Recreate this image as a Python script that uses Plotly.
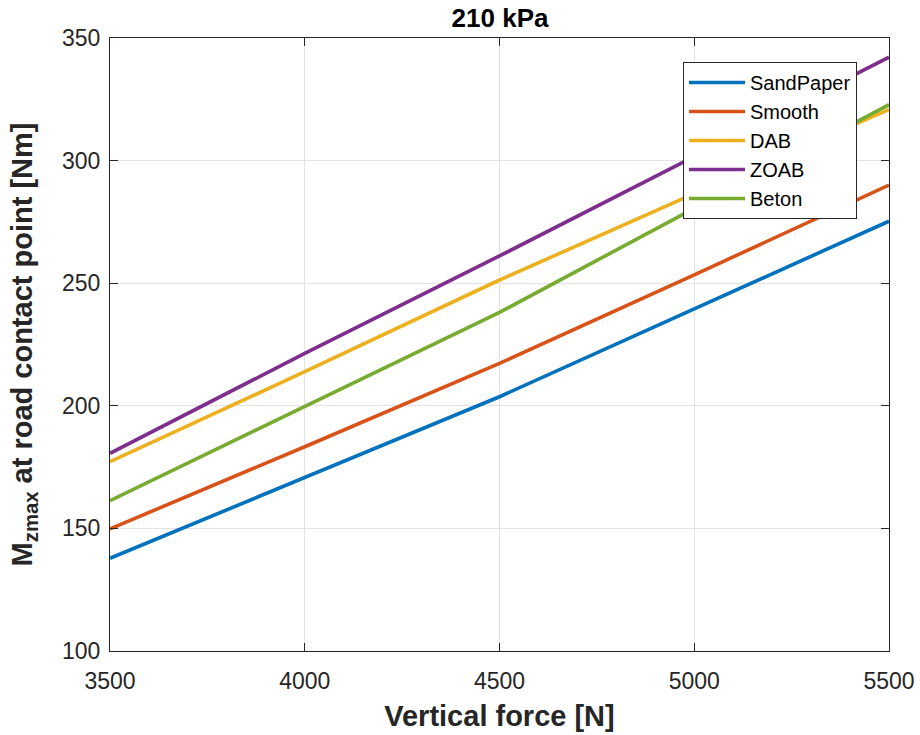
import plotly.graph_objects as go

# Vertical load sweep [N]
vertical_force = [3500, 4000, 4500, 5000, 5500]

# Peak aligning moment at the road contact point [Nm] per road surface
sandpaper = [137.8, 170.7, 203.7, 239.5, 275.3]
smooth = [149.8, 183.3, 217.3, 253.4, 290.0]
dab = [177.2, 213.9, 251.3, 286.5, 320.8]
zoab = [180.6, 221.4, 261.1, 301.8, 342.2]
beton = [161.3, 199.9, 238.1, 280.5, 322.8]

surface_names = ["SandPaper", "Smooth", "DAB", "ZOAB", "Beton"]
surface_values = [sandpaper, smooth, dab, zoab, beton]
surface_colors = ["#0072BD", "#D95319", "#EDB120", "#7E2F8E", "#77AC30"]

x_ticks = [3500, 4000, 4500, 5000, 5500]
y_ticks = [100, 150, 200, 250, 300, 350]

FONT = "Liberation Sans, Arial, Helvetica, sans-serif"
AXIS_COLOR = "#262626"
GRID_COLOR = "#e3e3e3"

fig = go.Figure()
for name, vals, col in zip(surface_names, surface_values, surface_colors):
    fig.add_trace(go.Scatter(
        x=vertical_force, y=vals, name=name, mode="lines",
        line=dict(color=col, width=3.6),
    ))

axis_common = dict(
    showline=True, linecolor=AXIS_COLOR, linewidth=1, mirror="ticks",
    ticks="inside", ticklen=8, tickcolor=AXIS_COLOR, tickwidth=1,
    showgrid=True, gridcolor=GRID_COLOR, gridwidth=1, zeroline=False,
    automargin=False,
    tickfont=dict(family=FONT, size=23, color=AXIS_COLOR),
)

fig.update_layout(
    width=920, height=735,
    margin=dict(l=110, r=31, t=38, b=84),
    paper_bgcolor="white", plot_bgcolor="white",
    font=dict(family=FONT, color=AXIS_COLOR),
    title=dict(
        text="<b>210 kPa</b>", x=0.5435, xanchor="center",
        y=1 - 18 / 735, yanchor="middle",
        font=dict(family=FONT, size=26, color="black"),
    ),
    xaxis=dict(
        range=[3500, 5500], tickvals=x_ticks,
        ticktext=[str(v) for v in x_ticks],
        ticklabelstandoff=9,
        title=dict(text="<b>Vertical force [N]</b>", standoff=13,
                   font=dict(family=FONT, size=29, color=AXIS_COLOR)),
        **axis_common,
    ),
    yaxis=dict(
        range=[100, 350], tickvals=y_ticks,
        ticktext=[str(v) for v in y_ticks],
        ticklabelstandoff=4,
        title=dict(text="<b>M<sub>zmax</sub> at road contact point [Nm]</b>",
                   standoff=20,
                   font=dict(family=FONT, size=29, color=AXIS_COLOR)),
        **axis_common,
    ),
    legend=dict(
        x=(683 - 110) / 779, y=(651 - 62) / 613,
        xanchor="left", yanchor="top",
        bgcolor="white", bordercolor=AXIS_COLOR, borderwidth=1,
        font=dict(family=FONT, size=20, color="black"),
        itemwidth=56, tracegroupgap=0,
    ),
    showlegend=True,
)

fig.write_html("out.html")
